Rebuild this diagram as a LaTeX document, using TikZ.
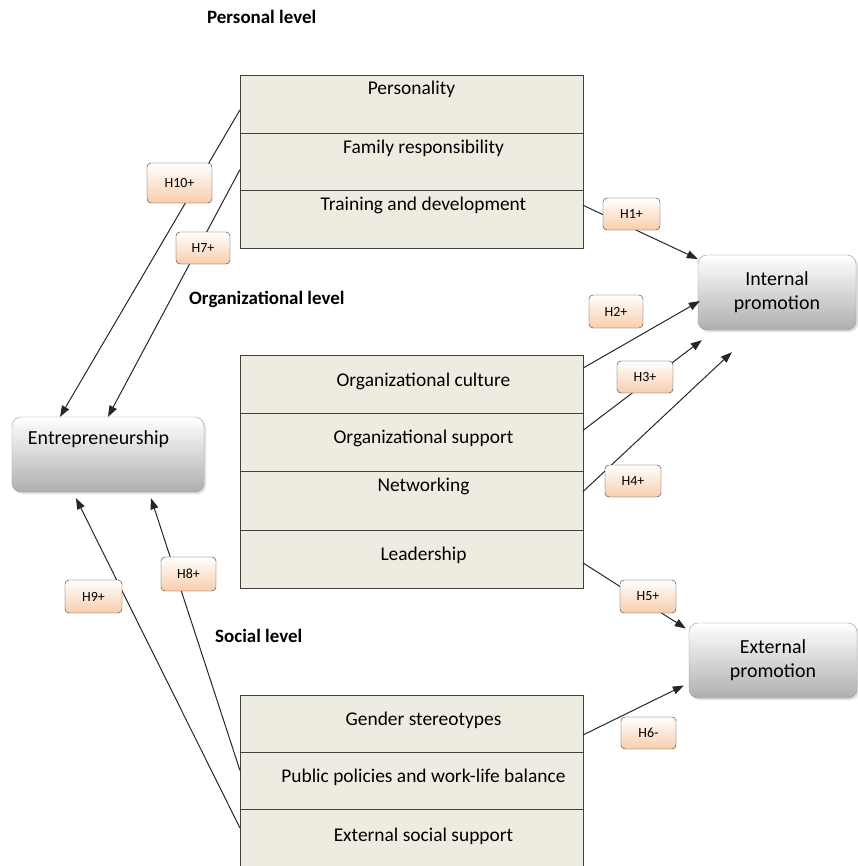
\documentclass[tikz,border=0pt]{standalone}
\usepackage{fontspec}
\setmainfont{Carlito}
\usetikzlibrary{positioning,arrows.meta,shadows}

\definecolor{rowfill}{RGB}{238,236,225}
\definecolor{hypfill}{RGB}{248,205,172}
\definecolor{promfill}{RGB}{175,175,175}

\newcommand{\rowpad}{\hspace*{24bp}}

\tikzset{
  rowbox/.style={draw=black!75, fill=rowfill, minimum width=343bp, minimum height=57.7bp,
    inner sep=0pt, outer sep=0pt, text height=13bp, text depth=#1, font=\fontsize{19.5}{23}\selectfont},
  rowbox/.default=10bp,
  outbox/.style={draw=gray!80, rounded corners=9bp, top color=white, bottom color=promfill,
    drop shadow={shadow xshift=2bp, shadow yshift=-2bp, opacity=0.25},
    minimum height=75bp, inner sep=0pt, align=center, font=\fontsize{20}{24}\selectfont},
  hyp/.style={draw=black!80, rounded corners=4bp, top color=white, bottom color=hypfill,
    minimum width=56bp, minimum height=32bp, inner sep=0pt, font=\fontsize{14}{16}\selectfont},
  link/.style={draw=black!85, line width=1bp, -{Triangle[length=11bp,width=8bp]}},
  lvl/.style={anchor=base west, inner sep=0pt, font=\bfseries\fontsize{19}{22}\selectfont}
}

\begin{document}
\begin{tikzpicture}[x=1bp, y=-1bp]
    \useasboundingbox (0,0) rectangle (858,866);

    % Niveles
    \node[lvl] (perslvl) at (207,23.3) {Personal level};
    \node[lvl] (orglvl) at (189,304) {Organizational level};
    \node[lvl] (soclvl) at (215,642.7) {Social level};

    % Personal level
    \node[rowbox=32bp, anchor=north west] (pers1) at (240,75) {Personality};
    \node[rowbox=30bp, below=0pt of pers1] (pers2) {\rowpad Family responsibility};
    \node[rowbox=30bp, below=0pt of pers2] (pers3) {\rowpad Training and development};

    % Organizational level
    \node[rowbox=7.8bp, minimum height=58.25bp, anchor=north west] (org1) at (240,355) {\rowpad Organizational culture};
    \node[rowbox=9.8bp, minimum height=58.25bp, below=0pt of org1] (org2) {\rowpad Organizational support};
    \node[rowbox=30.8bp, minimum height=58.25bp, below=0pt of org2] (org3) {\rowpad Networking};
    \node[rowbox=9.4bp, minimum height=58.25bp, below=0pt of org3] (org4) {\rowpad Leadership};

    % Social level
    \node[rowbox=10bp, minimum height=57bp, anchor=north west] (soc1) at (240,695) {\rowpad Gender stereotypes};
    \node[rowbox=8.6bp, minimum height=57bp, below=0pt of soc1] (soc2) {\rowpad Public policies and work-life balance};
    \node[rowbox=4.6bp, minimum height=57bp, below=0pt of soc2] (soc3) {\rowpad External social support};

    % Resultados
    \node[outbox, minimum width=192bp, text width=160bp, align=left, inner xsep=16bp,
      text height=13bp, text depth=34bp] (ent) at (108,454.5) {Entrepreneurship};
    \node[outbox, minimum width=158bp] (int) at (777,292.5) {Internal\\promotion};
    \node[outbox, minimum width=168bp] (ext) at (773,660.5) {External\\promotion};

    % Hipotesis -> Internal / External promotion
    \draw[link] ([yshift=14bp]pers3.east) -- ([yshift=33.5bp]int.west);
    \draw[link] ([yshift=16bp]org1.east) -- ([xshift=2bp,yshift=-8.5bp]int.west);
    \draw[link] ([yshift=12bp]org2.east) -- ([xshift=4bp,yshift=-10bp]int.south west);
    \draw[link] ([yshift=9bp]org3.east) -- ([xshift=34bp,yshift=-22bp]int.south west);
    \draw[link] ([yshift=-4bp]org4.east) -- ([xshift=-3bp,yshift=32bp]ext.west);
    \draw[link] ([yshift=-11.5bp]soc1.east) -- ([xshift=-5bp,yshift=-25bp]ext.west);

    % Hipotesis -> Entrepreneurship
    \draw[link] ([yshift=-6bp]pers1.west) -- ([xshift=-48bp]ent.north);
    \draw[link] ([yshift=-8bp]pers2.west) -- (ent.north);
    \draw[link] ([yshift=10bp]soc2.west) -- ([xshift=43bp,yshift=-6bp]ent.south);
    \draw[link] ([yshift=9.5bp]soc3.west) -- ([xshift=-32bp,yshift=-6bp]ent.south);

    % Etiquetas
    \node[hyp, minimum width=65bp, minimum height=40bp] (h10) at (179.5,183) {H10+};
    \node[hyp, minimum width=54bp] (h7) at (203,248) {H7+};
    \node[hyp, minimum width=57bp] (h1) at (631.5,214) {H1+};
    \node[hyp, minimum width=54bp, minimum height=33bp] (h2) at (616,311.5) {H2+};
    \node[hyp] (h3) at (645,377) {H3+};
    \node[hyp] (h4) at (633,481) {H4+};
    \node[hyp, minimum height=33bp] (h5) at (648,596.5) {H5+};
    \node[hyp, minimum width=55bp] (h6) at (648.5,733) {H6-};
    \node[hyp, minimum width=57bp, minimum height=33bp] (h9) at (93.5,596.5) {H9+};
    \node[hyp, minimum width=55bp, minimum height=34bp] (h8) at (188.5,574) {H8+};
\end{tikzpicture}
\end{document}
